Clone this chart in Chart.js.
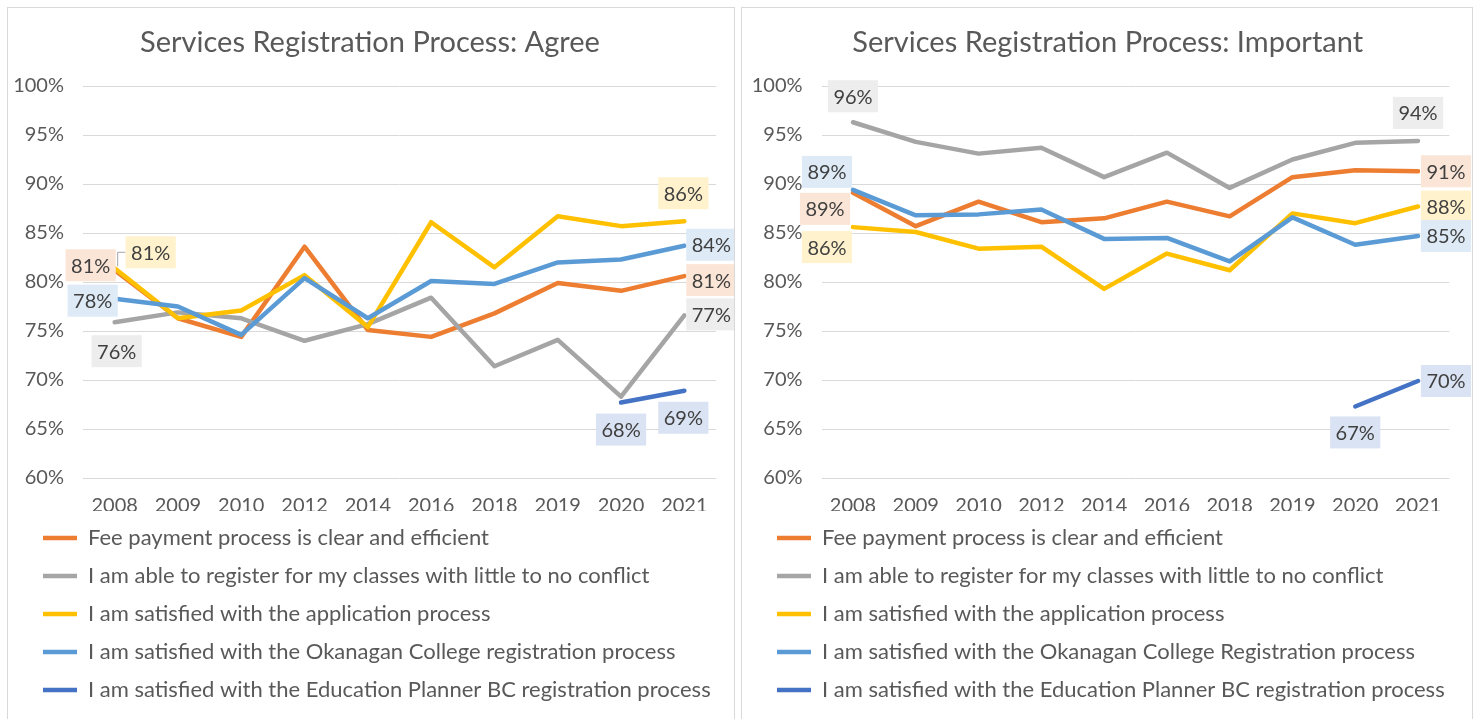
<!DOCTYPE html>
<html>
<head>
<meta charset="utf-8">
<title>Services Registration Process</title>
<script src="https://cdn.jsdelivr.net/npm/chart.js@4.4.0/dist/chart.umd.min.js"></script>
<style>
    body { margin: 0; background: #fff; width: 1477px; height: 719px; overflow: hidden; }
    .panel { position: absolute; top: 7px; height: 730px; border: 1px solid #d9d9d9; background: #fff; }
    #leftPanel { left: 7px; width: 726px; }
    #rightPanel { left: 741px; width: 730px; }
    canvas { display: block; }
</style>
</head>
<body>
<div class="panel" id="leftPanel"><canvas id="agreeChart" width="726" height="711"></canvas></div>
<div class="panel" id="rightPanel"><canvas id="importantChart" width="730" height="711"></canvas></div>
<script>
// Categories and tick labels
const years = ['2008', '2009', '2010', '2012', '2014', '2016', '2018', '2019', '2020', '2021'];
const yTicks = [60, 65, 70, 75, 80, 85, 90, 95, 100];

const agreeNames = [
    'Fee payment process is clear and efficient',
    'I am able to register for my classes with little to no conflict',
    'I am satisfied with the application process',
    'I am satisfied with the Okanagan College registration process',
    'I am satisfied with the Education Planner BC registration process'
];
const importantNames = [
    'Fee payment process is clear and efficient',
    'I am able to register for my classes with little to no conflict',
    'I am satisfied with the application process',
    'I am satisfied with the Okanagan College Registration process',
    'I am satisfied with the Education Planner BC registration process'
];

// Agree (%)
const agreeFee = [81.2, 76.3, 74.4, 83.6, 75.1, 74.4, 76.8, 79.9, 79.1, 80.6];
const agreeConflict = [75.9, 76.9, 76.3, 74.0, 75.7, 78.4, 71.4, 74.1, 68.3, 76.6];
const agreeApplication = [81.4, 76.3, 77.1, 80.7, 75.4, 86.1, 81.5, 86.7, 85.7, 86.2];
const agreeOkanagan = [78.3, 77.5, 74.6, 80.4, 76.3, 80.1, 79.8, 82.0, 82.3, 83.7];
const agreeEdPlanner = [null, null, null, null, null, null, null, null, 67.7, 68.9];

// Important (%)
const importantFee = [89.1, 85.7, 88.2, 86.1, 86.5, 88.2, 86.7, 90.7, 91.4, 91.3];
const importantConflict = [96.3, 94.3, 93.1, 93.7, 90.7, 93.2, 89.6, 92.5, 94.2, 94.4];
const importantApplication = [85.6, 85.1, 83.4, 83.6, 79.3, 82.9, 81.2, 87.0, 86.0, 87.7];
const importantOkanagan = [89.4, 86.8, 86.9, 87.4, 84.4, 84.5, 82.1, 86.6, 83.8, 84.7];
const importantEdPlanner = [null, null, null, null, null, null, null, null, 67.3, 69.9];

// Series colours and the light tints used behind the data labels
const lineColors = ['#ED7D31', '#A5A5A5', '#FFC000', '#5B9BD5', '#4472C4'];
const labelTints = ['#FBE5D6', '#EDEDED', '#FFF2CC', '#DEEBF7', '#DAE3F3'];

// Which points get a label, and where the label box sits relative to the point
const agreeLabelSpots = [
    { s: 0, i: 0, dx: -24, dy: -5 },
    { s: 2, i: 0, dx: 36, dy: -16, leader: true },
    { s: 3, i: 0, dx: -22, dy: 2 },
    { s: 1, i: 0, dx: 2, dy: 29 },
    { s: 2, i: 9, dx: -1, dy: -28 },
    { s: 3, i: 9, dx: 27, dy: -1 },
    { s: 0, i: 9, dx: 27, dy: 4 },
    { s: 1, i: 9, dx: 27, dy: -1 },
    { s: 4, i: 8, dx: 0, dy: 27 },
    { s: 4, i: 9, dx: -1, dy: 27 }
];
const importantLabelSpots = [
    { s: 1, i: 0, dx: 0, dy: -26 },
    { s: 3, i: 0, dx: -26, dy: -18 },
    { s: 0, i: 0, dx: -28, dy: 16 },
    { s: 2, i: 0, dx: -26, dy: 20 },
    { s: 1, i: 9, dx: 0, dy: -28 },
    { s: 0, i: 9, dx: 28, dy: 0 },
    { s: 2, i: 9, dx: 28, dy: 0 },
    { s: 3, i: 9, dx: 28, dy: 0 },
    { s: 4, i: 8, dx: 0, dy: 26 },
    { s: 4, i: 9, dx: 28, dy: 0 }
];

Chart.defaults.font.family = 'Lato, "Open Sans", sans-serif';
Chart.defaults.color = '#595959';

// Draws the boxed percentage labels on top of the lines
const boxLabels = {
    id: 'boxLabels',
    afterDatasetsDraw(chart, args, opts) {
        const ctx = chart.ctx;
        ctx.save();
        ctx.font = '20px Lato';
        ctx.textAlign = 'center';
        ctx.textBaseline = 'middle';
        opts.spots.forEach(sp => {
            const pt = chart.getDatasetMeta(sp.s).data[sp.i];
            const v = chart.data.datasets[sp.s].data[sp.i];
            const text = Math.round(v) + '%';
            const cx = pt.x + sp.dx;
            const cy = pt.y + sp.dy;
            const w = ctx.measureText(text).width + 11;
            const h = 32;
            if (sp.leader) {
                ctx.strokeStyle = '#A6A6A6';
                ctx.lineWidth = 1;
                ctx.beginPath();
                ctx.moveTo(pt.x + 3, pt.y - 2);
                ctx.lineTo(pt.x + 3, cy);
                ctx.lineTo(cx - w / 2, cy);
                ctx.stroke();
            }
            ctx.fillStyle = labelTints[sp.s];
            ctx.fillRect(cx - w / 2, cy - h / 2, w, h);
            ctx.fillStyle = '#404040';
            ctx.fillText(text, cx, cy + 1);
        });
        ctx.restore();
    }
};

// Legend and title are not aligned to the plot in the original, so nudge them after layout
const boxShift = {
    id: 'boxShift',
    afterLayout(chart, args, opts) {
        chart.legend.left += opts.legendDx;
        chart.legend.right += opts.legendDx;
        chart.titleBlock.left += opts.titleDx;
        chart.titleBlock.right += opts.titleDx;
    }
};

function makeChart(canvasId, title, names, series, spots, yWidth, padRight, titleDx) {
    const datasets = series.map((data, k) => ({
        label: names[k],
        data: data,
        borderColor: lineColors[k],
        backgroundColor: lineColors[k],
        borderWidth: 4.5,
        pointRadius: 0,
        pointHoverRadius: 0,
        tension: 0,
        borderCapStyle: 'round',
        borderJoinStyle: 'round',
        order: series.length - 1 - k // later series drawn on top, like the original
    }));

    return new Chart(document.getElementById(canvasId), {
        type: 'line',
        data: { labels: years, datasets: datasets },
        options: {
            responsive: false,
            animation: false,
            layout: { padding: { left: 2, right: padRight, top: 0, bottom: 8 } },
            scales: {
                x: {
                    offset: true,
                    grid: { display: false, drawTicks: false },
                    border: { display: false },
                    ticks: { font: { size: 20 }, color: '#595959', padding: 16, maxRotation: 0 },
                    afterFit: s => { s.height = 33; }
                },
                y: {
                    min: yTicks[0],
                    max: yTicks[yTicks.length - 1],
                    grid: { color: '#D9D9D9', lineWidth: 1, drawTicks: false },
                    border: { display: false },
                    ticks: {
                        stepSize: 5,
                        font: { size: 20 },
                        color: '#595959',
                        padding: 19,
                        callback: v => v + '%'
                    },
                    afterFit: s => { s.width = yWidth; }
                }
            },
            plugins: {
                title: {
                    display: true,
                    text: title,
                    color: '#595959',
                    font: { size: 29, weight: 'normal' },
                    padding: { top: 17.6, bottom: 25.6 }
                },
                legend: {
                    position: 'bottom',
                    align: 'start',
                    labels: {
                        usePointStyle: true,
                        pointStyle: 'line',
                        pointStyleWidth: 34,
                        font: { size: 22 },
                        color: '#595959',
                        padding: 16,
                        sort: (a, b) => a.datasetIndex - b.datasetIndex
                    }
                },
                boxShift: { legendDx: 17, titleDx: titleDx },
                tooltip: { enabled: false },
                boxLabels: { spots: spots }
            }
        },
        plugins: [boxLabels, boxShift]
    });
}

makeChart('agreeChart', 'Services Registration Process: Agree', agreeNames,
    [agreeFee, agreeConflict, agreeApplication, agreeOkanagan, agreeEdPlanner],
    agreeLabelSpots, 73, 18, 7);

makeChart('importantChart', 'Services Registration Process: Important', importantNames,
    [importantFee, importantConflict, importantApplication, importantOkanagan, importantEdPlanner],
    importantLabelSpots, 77.6, 22.6, 11);
</script>
</body>
</html>
